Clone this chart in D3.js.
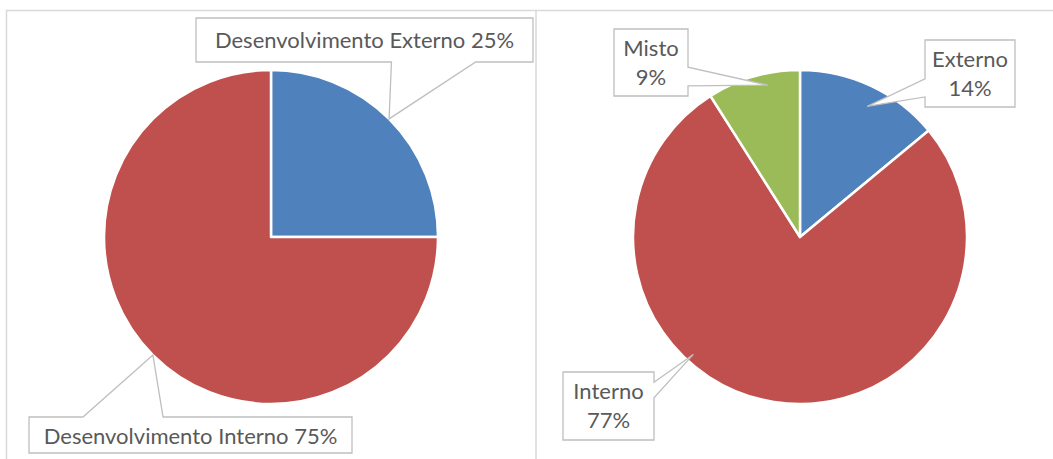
<!DOCTYPE html>
<html>
<head>
<meta charset="utf-8">
<script src="https://cdn.jsdelivr.net/npm/d3@7"></script>
<style>
  body { margin: 0; background: #fff; }
  svg { display: block; }
  text { font-family: Lato, "Open Sans", sans-serif; fill: #595959; }
</style>
</head>
<body>
<div id="chart"></div>
<script>
// data
const leftNames = ['Desenvolvimento Externo', 'Desenvolvimento Interno'];
const leftValues = [25, 75];
const rightNames = ['Externo', 'Interno', 'Misto'];
const rightValues = [14, 77, 9];

const leftColors = ['#4F81BD', '#C0504D'];
const rightColors = ['#4F81BD', '#C0504D', '#9BBB59'];

const W = 1053, H = 459;
const svg = d3.select('#chart').append('svg').attr('width', W).attr('height', H);

// frame
const frame = svg.append('g').attr('stroke', '#D9D9D9').attr('stroke-width', 1.5);
frame.append('line').attr('x1', 6).attr('x2', W).attr('y1', 10.5).attr('y2', 10.5);
frame.append('line').attr('x1', 6.5).attr('x2', 6.5).attr('y1', 10).attr('y2', H);
frame.append('line').attr('x1', 536).attr('x2', 536).attr('y1', 10).attr('y2', H);

const R = 167;
const pie = d3.pie().sort(null).value(d => d.value);
const arc = d3.arc().innerRadius(0).outerRadius(R);

// label layout: box, pointer side, base fractions, tip position in slice, text offset
const leftLayout = [
  { box: [196, 18, 533, 62], side: 'bottom', base: [0.58, 0.83], frac: 0.5, rf: 1.0, lines: 1, dy: 30 },
  { box: [29, 417, 352, 453], side: 'top', base: [0.167, 0.415], frac: 0.5, rf: 1.0, lines: 1, dy: 27 }
];
const rightLayout = [
  { box: [925, 40, 1015, 107], side: 'left', base: [0.58, 0.85], frac: 0.54, rf: 0.88, lines: 2, dy: 27 },
  { box: [563, 372, 654, 440], side: 'right', base: [0.15, 0.38], frac: 0.62, rf: 0.95, lines: 2, dy: 27 },
  { box: [614, 29, 688, 96], side: 'right', base: [0.57, 0.85], frac: 0.63, rf: 0.93, lines: 2, dy: 27 }
];

function calloutPath(l, tip) {
  const [x0, y0, x1, y1] = l.box, w = x1 - x0, h = y1 - y0;
  const [a, b] = l.base;
  const p = [];
  p.push([x0, y0]);
  if (l.side === 'top') p.push([x0 + a * w, y0], tip, [x0 + b * w, y0]);
  p.push([x1, y0]);
  if (l.side === 'right') p.push([x1, y0 + a * h], tip, [x1, y0 + b * h]);
  p.push([x1, y1]);
  if (l.side === 'bottom') p.push([x0 + b * w, y1], tip, [x0 + a * w, y1]);
  p.push([x0, y1]);
  if (l.side === 'left') p.push([x0, y0 + b * h], tip, [x0, y0 + a * h]);
  return 'M' + p.map(q => q.join(',')).join('L') + 'Z';
}

function drawPie(cx, cy, names, values, colors, layout) {
  const data = names.map((n, i) => ({ name: n, value: values[i], color: colors[i] }));
  const arcs = pie(data);
  const g = svg.append('g').attr('transform', `translate(${cx},${cy})`);
  g.selectAll('path.slice').data(arcs).join('path')
    .attr('class', 'slice')
    .attr('d', arc)
    .attr('fill', d => d.data.color)
    .attr('stroke', '#fff')
    .attr('stroke-width', 2.5)
    .attr('stroke-linejoin', 'round');

  arcs.forEach((d, i) => {
    const l = layout[i];
    const ang = d.startAngle + (d.endAngle - d.startAngle) * l.frac;
    const pt = d3.pointRadial(ang, R * l.rf);
    const tip = [cx + pt[0], cy + pt[1]];
    svg.append('path')
      .attr('d', calloutPath(l, tip))
      .attr('fill', '#fff')
      .attr('stroke', '#BFBFBF')
      .attr('stroke-width', 1.3);
    const [x0, y0, x1, y1] = l.box;
    const mx = (x0 + x1) / 2;
    const t = svg.append('text').attr('text-anchor', 'middle').attr('font-size', 22);
    if (l.lines === 1) {
      t.attr('x', mx).attr('y', y0 + l.dy).text(`${d.data.name} ${d.data.value}%`);
    } else {
      t.append('tspan').attr('x', mx).attr('y', y0 + l.dy).text(d.data.name);
      t.append('tspan').attr('x', mx).attr('y', y0 + l.dy + 29).text(`${d.data.value}%`);
    }
  });
}

drawPie(271, 237, leftNames, leftValues, leftColors, leftLayout);
drawPie(800, 237, rightNames, rightValues, rightColors, rightLayout);
</script>
</body>
</html>
